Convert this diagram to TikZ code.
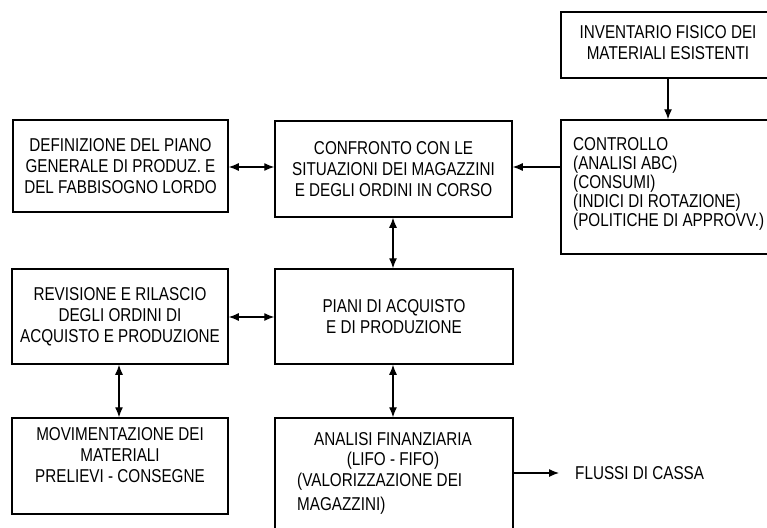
\documentclass[tikz,border=0pt]{standalone}
\usepackage{fontspec}
\setmainfont[FakeStretch=0.82]{Liberation Sans}
\usetikzlibrary{arrows.meta}
\tikzset{
  box/.style={draw, line width=1.5pt, rectangle, inner sep=0pt, align=center,
    font=\fontsize{18.6}{21}\selectfont},
  txt/.style={inner sep=0pt, font=\fontsize{18.6}{21}\selectfont},
  tip/.tip={Latex[length=10pt,width=8pt]},
  con/.style={line width=1.2pt, -tip},
  dcon/.style={line width=1.2pt, tip-tip}
}
\begin{document}
\begin{tikzpicture}[x=1pt,y=-1pt]
\useasboundingbox (0,0) rectangle (767,527);
% boxes
\node[box, minimum width=220pt, minimum height=66pt] (inv) at (671,45) {};
\node[txt, align=center] (invt) at (668,43) {INVENTARIO FISICO DEI\\MATERIALI ESISTENTI};
\node[box, minimum width=220pt, minimum height=134pt] (ctrl) at (671,187) {};
\node[txt, align=left, anchor=west, font=\fontsize{18.6}{18.8}\selectfont] (ctrlt) at (573,184)
  {CONTROLLO\\(ANALISI ABC)\\(CONSUMI)\\(INDICI DI ROTAZIONE)\\(POLITICHE DI APPROVV.)};
\node[box, minimum width=215pt, minimum height=92pt] (def) at (120.5,166)
  {DEFINIZIONE DEL PIANO\\GENERALE DI PRODUZ. E\\DEL FABBISOGNO LORDO};
\node[box, minimum width=237pt, minimum height=96pt] (conf) at (393.5,169)
  {CONFRONTO CON LE\\SITUAZIONI DEI MAGAZZINI\\E DEGLI ORDINI IN CORSO};
\node[box, minimum width=216pt, minimum height=95pt] (rev) at (120,316.5)
  {REVISIONE E RILASCIO\\DEGLI ORDINI DI\\ACQUISTO E PRODUZIONE};
\node[box, minimum width=238pt, minimum height=95pt] (piani) at (394,316.5)
  {PIANI DI ACQUISTO\\E DI PRODUZIONE};
\node[box, minimum width=216pt, minimum height=96pt] (mov) at (120,466) {};
\node[txt, align=center] (movt) at (120,455) {MOVIMENTAZIONE DEI\\MATERIALI\\PRELIEVI - CONSEGNE};
\node[box, minimum width=238pt, minimum height=124pt] (ana) at (394,480) {};
\node[txt, align=center, font=\fontsize{18.6}{20}\selectfont] (anat1) at (393,451) {ANALISI FINANZIARIA\\(LIFO - FIFO)};
\node[txt, align=left, anchor=west, font=\fontsize{18.6}{24}\selectfont] (anat2) at (297,494) {(VALORIZZAZIONE DEI\\MAGAZZINI)};
\node[txt, anchor=west] (flussi) at (575,473) {FLUSSI DI CASSA};
\coordinate (flussiend) at (559,473);
% connectors
\draw[con] (inv.south -| 668,0) -- (ctrl.north -| 668,0);
\draw[con] (ctrl.west |- 0,167) -- (conf.east |- 0,167);
\draw[dcon] (def.east |- 0,167) -- (conf.west |- 0,167);
\draw[dcon] (conf.south -| 393,0) -- (piani.north -| 393,0);
\draw[dcon] (rev.east |- 0,317) -- (piani.west |- 0,317);
\draw[dcon] (rev.south -| 119,0) -- (mov.north -| 119,0);
\draw[dcon] (piani.south -| 393,0) -- (ana.north -| 393,0);
\draw[con] (ana.east |- 0,473) -- (flussiend);
\end{tikzpicture}
\end{document}
